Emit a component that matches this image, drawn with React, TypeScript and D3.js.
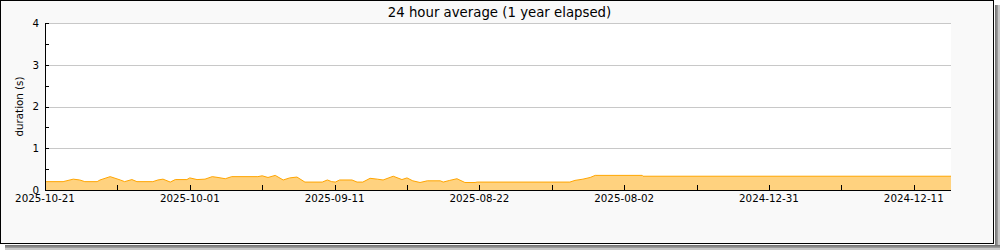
import React from "react";
import * as d3 from "d3";

const TITLE = "24 hour average (1 year elapsed)";
const Y_LABEL = "duration (s)";

// x position in days from left edge of the plot; value in seconds
const days = [0, 2.5, 3.9, 4.8, 5.5, 7.2, 7.6, 9.0, 10.4, 11.0, 12.0, 12.7, 14.9, 15.6, 16.3, 17.3, 18.0, 19.6, 20.0, 21.0, 22.1, 23.1, 23.9, 24.9, 25.8, 29.4, 30.0, 30.8, 31.8, 32.9, 33.8, 34.8, 35.9, 38.3, 39.0, 39.6, 40.1, 40.7, 42.4, 43.1, 43.9, 44.9, 45.9, 46.7, 48.1, 49.3, 50.0, 50.8, 51.8, 52.8, 54.6, 55.0, 55.9, 56.9, 58.0, 59.4, 59.7, 72.5, 73.2, 74.3, 75.3, 76.0, 82.5, 82.6, 125.14];
const durations = [0.2, 0.2, 0.26, 0.24, 0.2, 0.2, 0.24, 0.32, 0.24, 0.2, 0.25, 0.2, 0.2, 0.24, 0.26, 0.19, 0.25, 0.25, 0.29, 0.25, 0.26, 0.32, 0.3, 0.27, 0.32, 0.32, 0.34, 0.3, 0.35, 0.24, 0.29, 0.31, 0.19, 0.19, 0.24, 0.2, 0.19, 0.24, 0.24, 0.19, 0.19, 0.28, 0.26, 0.24, 0.33, 0.25, 0.29, 0.22, 0.18, 0.22, 0.22, 0.19, 0.23, 0.27, 0.18, 0.18, 0.19, 0.19, 0.23, 0.26, 0.3, 0.35, 0.35, 0.33, 0.33];

const xTickDays = [0, 10, 20, 30, 40, 50, 60, 70, 80, 90, 100, 110, 120];
const xTickLabels = ["2025-10-21", "", "2025-10-01", "", "2025-09-11", "", "2025-08-22", "", "2025-08-02", "", "2024-12-31", "", "2024-12-11"];
const yMajor = [0, 1, 2, 3, 4];
const yMinor = [0.5, 1.5, 2.5, 3.5];

const W = 1000, H = 250;
const PL = 45, PR = 951, PT = 23, PB = 190;
const FONT = "'DejaVu Sans', sans-serif";

export default function App() {
  const x = d3.scaleLinear().domain([0, 125.14]).range([PL, PR]);
  const y = d3.scaleLinear().domain([0, 4]).range([PB, PT]);
  const data = days.map((d, i) => ({ d, v: durations[i] }));
  const area = d3.area<{ d: number; v: number }>().x(p => x(p.d)).y0(y(0)).y1(p => y(p.v));
  const line = d3.line<{ d: number; v: number }>().x(p => x(p.d)).y(p => y(p.v));

  return (
    <svg width={W} height={H} style={{ position: "absolute", left: 0, top: 0 }} xmlns="http://www.w3.org/2000/svg">
      {/* shadow */}
      <rect x={995} y={5} width={5} height={245} fill="#c8c8c8" />
      <rect x={995} y={5} width={3} height={245} fill="#9a9a9a" />
      <rect x={995} y={5} width={1.5} height={245} fill="#777" />
      <rect x={5} y={245} width={995} height={5} fill="#c8c8c8" />
      <rect x={5} y={245} width={995} height={3} fill="#9a9a9a" />
      <rect x={5} y={245} width={995} height={1.5} fill="#777" />
      {/* frame */}
      <rect x={0.5} y={0.5} width={993} height={243} fill="#f9f9f9" stroke="#000" strokeWidth={1} />
      {/* plot bg */}
      <rect x={PL} y={PT} width={PR - PL} height={PB - PT} fill="#fff" />
      {/* grid */}
      {yMajor.filter(v => v > 0).map(v => (
        <line key={"g" + v} x1={PL} x2={PR} y1={Math.round(y(v)) + 0.5} y2={Math.round(y(v)) + 0.5} stroke="#c8c8c8" strokeWidth={1} />
      ))}
      {/* area */}
      <path d={area(data) || ""} fill="#ffd27f" />
      <path d={line(data) || ""} fill="none" stroke="#ffa500" strokeWidth={1} />
      {/* y ticks */}
      {yMajor.map(v => (
        <line key={"yt" + v} x1={PL} x2={PL + 4} y1={Math.round(y(v)) + 0.5} y2={Math.round(y(v)) + 0.5} stroke="#000" />
      ))}
      {yMinor.map(v => (
        <line key={"ym" + v} x1={PL} x2={PL + 4} y1={Math.round(y(v)) + 0.5} y2={Math.round(y(v)) + 0.5} stroke="#000" />
      ))}
      {yMajor.map(v => (
        <text key={"yl" + v} x={39} y={y(v) + 3.8} textAnchor="end" fontFamily={FONT} fontSize={10.3} fill="#000">{v}</text>
      ))}
      {/* x ticks */}
      {xTickDays.map((d, i) => (
        <line key={"xt" + d} x1={Math.round(x(d)) + 0.5} x2={Math.round(x(d)) + 0.5} y1={PB} y2={PB - 5} stroke="#000" />
      ))}
      {xTickDays.map((d, i) => xTickLabels[i] ? (
        <text key={"xl" + d} x={x(d)} y={201.5} textAnchor="middle" fontFamily={FONT} fontSize={10.3} fill="#000">{xTickLabels[i]}</text>
      ) : null)}
      {/* axes */}
      <line x1={PL + 0.5} x2={PL + 0.5} y1={PT} y2={PB + 0.5} stroke="#000" />
      <line x1={PL} x2={PR} y1={PB + 0.5} y2={PB + 0.5} stroke="#000" />
      {/* title */}
      <text x={499.5} y={16.5} textAnchor="middle" fontFamily={FONT} fontSize={13.3} fill="#000">{TITLE}</text>
      {/* y label */}
      <text transform={`translate(22.5,106.5) rotate(-90)`} textAnchor="middle" fontFamily={FONT} fontSize={10.3} fill="#000">{Y_LABEL}</text>
    </svg>
  );
}
